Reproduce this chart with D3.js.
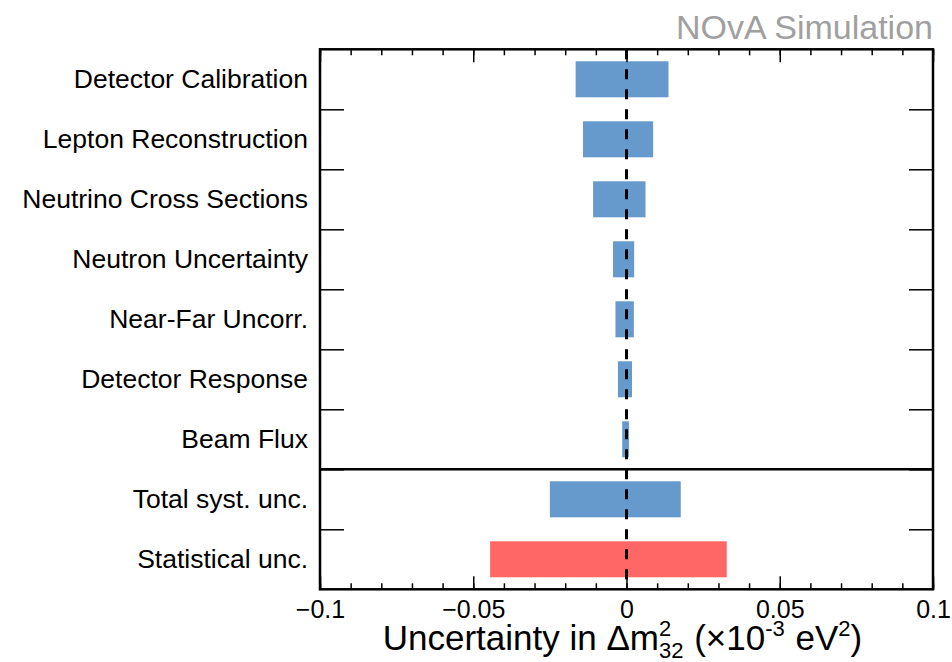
<!DOCTYPE html>
<html>
<head>
<meta charset="utf-8">
<script src="https://cdn.jsdelivr.net/npm/d3@7"></script>
<style>
  body { margin: 0; background: #fff; }
  svg { font-family: "Liberation Sans", Arial, sans-serif; }
</style>
</head>
<body>
<div id="chart"></div>
<script>
// systematic categories, top to bottom
const categories = [
  "Detector Calibration",
  "Lepton Reconstruction",
  "Neutrino Cross Sections",
  "Neutron Uncertainty",
  "Near-Far Uncorr.",
  "Detector Response",
  "Beam Flux",
  "Total syst. unc.",
  "Statistical unc."
];
// shift in dm^2_32 (x 1e-3 eV^2), negative and positive side
const lowValues  = [-0.0166, -0.0142, -0.0109, -0.0044, -0.0036, -0.0028, -0.0014, -0.0250, -0.0445];
const highValues = [ 0.0137,  0.0087,  0.0062,  0.0025,  0.0024,  0.0018,  0.0008,  0.0177,  0.0327];
const majorTicks = [-0.1, -0.05, 0, 0.05, 0.1];
const minorTicks = d3.range(-10, 11).map(function(i) { return i / 100 });

const W = 952, H = 662;
const frame = { left: 320, right: 933, top: 49.3, bottom: 589.3 };

const svg = d3.select("#chart").append("svg")
  .attr("width", W)
  .attr("height", H);

const x = d3.scaleLinear()
  .domain([-0.1, 0.1])
  .range([frame.left, frame.right]);

const y = d3.scaleBand()
  .domain(categories)
  .range([frame.top, frame.bottom])
  .paddingInner(0.4)
  .paddingOuter(0.2);

// row boundaries, for the side ticks
const yRow = d3.scaleLinear()
  .domain([0, categories.length])
  .range([frame.top, frame.bottom]);

const data = categories.map(function(c, i) {
  return { name: c, lo: lowValues[i], hi: highValues[i], stat: c === "Statistical unc." };
});

// bars
svg.selectAll(".bar")
  .data(data)
  .enter().append("rect")
    .attr("class", "bar")
    .attr("x", function(d) { return x(d.lo) })
    .attr("y", function(d) { return y(d.name) })
    .attr("width", function(d) { return x(d.hi) - x(d.lo) })
    .attr("height", y.bandwidth())
    .attr("fill", function(d) { return d.stat ? "#ff6666" : "#6699cc" });

// dashed zero line
svg.append("line")
  .attr("x1", x(0)).attr("x2", x(0))
  .attr("y1", frame.top).attr("y2", frame.bottom)
  .attr("stroke", "#000")
  .attr("stroke-width", 3)
  .attr("stroke-dasharray", "10,10");

// separator between single systematics and totals
svg.append("line")
  .attr("x1", frame.left).attr("x2", frame.right)
  .attr("y1", yRow(7)).attr("y2", yRow(7))
  .attr("stroke", "#000")
  .attr("stroke-width", 2.5);

function styleAxis(g) {
  g.select(".domain").remove();
  g.selectAll(".tick line").attr("stroke", "#000").attr("stroke-width", 1.5);
}

// x axes: minor ticks top and bottom, major with labels on bottom
svg.append("g")
  .attr("transform", "translate(0," + frame.bottom + ")")
  .call(d3.axisBottom(x).tickValues(minorTicks).tickSize(-6).tickFormat(""))
  .call(styleAxis);
svg.append("g")
  .attr("transform", "translate(0," + frame.top + ")")
  .call(d3.axisTop(x).tickValues(minorTicks).tickSize(-6).tickFormat(""))
  .call(styleAxis);
svg.append("g")
  .attr("transform", "translate(0," + frame.top + ")")
  .call(d3.axisTop(x).tickValues(majorTicks).tickSize(-13).tickFormat(""))
  .call(styleAxis);
svg.append("g")
  .attr("transform", "translate(0," + frame.bottom + ")")
  .call(d3.axisBottom(x).tickValues(majorTicks).tickSize(-13).tickPadding(11)
    .tickFormat(d3.format("~g")))
  .call(styleAxis)
  .call(function(g) {
    g.selectAll(".tick text")
      .attr("font-size", 25)
      .attr("font-family", "Liberation Sans, Arial, sans-serif")
      .attr("fill", "#000");
  });

// y axis: labels at row centres, ticks at row boundaries
svg.append("g")
  .attr("transform", "translate(" + frame.left + ",0)")
  .call(d3.axisLeft(y).tickSize(0).tickPadding(12))
  .call(function(g) {
    g.select(".domain").remove();
    g.selectAll(".tick text")
      .attr("font-size", 26.5)
      .attr("font-family", "Liberation Sans, Arial, sans-serif")
      .attr("fill", "#000");
  });
const rowTicks = d3.range(1, categories.length);
svg.append("g")
  .attr("transform", "translate(" + frame.left + ",0)")
  .call(d3.axisLeft(yRow).tickValues(rowTicks).tickSize(-24).tickFormat(""))
  .call(styleAxis);
svg.append("g")
  .attr("transform", "translate(" + frame.right + ",0)")
  .call(d3.axisRight(yRow).tickValues(rowTicks).tickSize(-24).tickFormat(""))
  .call(styleAxis);

// frame
svg.append("rect")
  .attr("x", frame.left).attr("y", frame.top)
  .attr("width", frame.right - frame.left)
  .attr("height", frame.bottom - frame.top)
  .attr("fill", "none")
  .attr("stroke", "#000")
  .attr("stroke-width", 2.5);

// top right label
svg.append("text")
  .attr("x", frame.right)
  .attr("y", 39)
  .attr("text-anchor", "end")
  .attr("font-size", 34)
  .attr("fill", "#a0a0a0")
  .text("NOvA Simulation");

// x axis title, built from pieces so the 2 and 32 can stack
const title = svg.append("g");
const fs = 35, small = 22;
let cx = 0;
function piece(txt, size, dy) {
  const t = title.append("text")
    .attr("x", cx)
    .attr("y", dy)
    .attr("font-size", size)
    .attr("fill", "#000")
    .style("white-space", "pre")
    .text(txt);
  return t.node().getComputedTextLength();
}
cx += piece("Uncertainty in \u0394m", fs, 0);
const wSup = piece("2", small, -14);
const wSub = piece("32", small, 8);
cx += Math.max(wSup, wSub) + 1;
cx += piece(" (\u00d710", fs, 0);
cx += piece("-3", small, -14) + 1;
cx += piece(" eV", fs, 0);
cx += piece("2", small, -14);
cx += piece(")", fs, 0);
title.attr("transform", "translate(" + ((frame.left + frame.right) / 2 - 4 - cx / 2) + ",650)");
</script>
</body>
</html>
